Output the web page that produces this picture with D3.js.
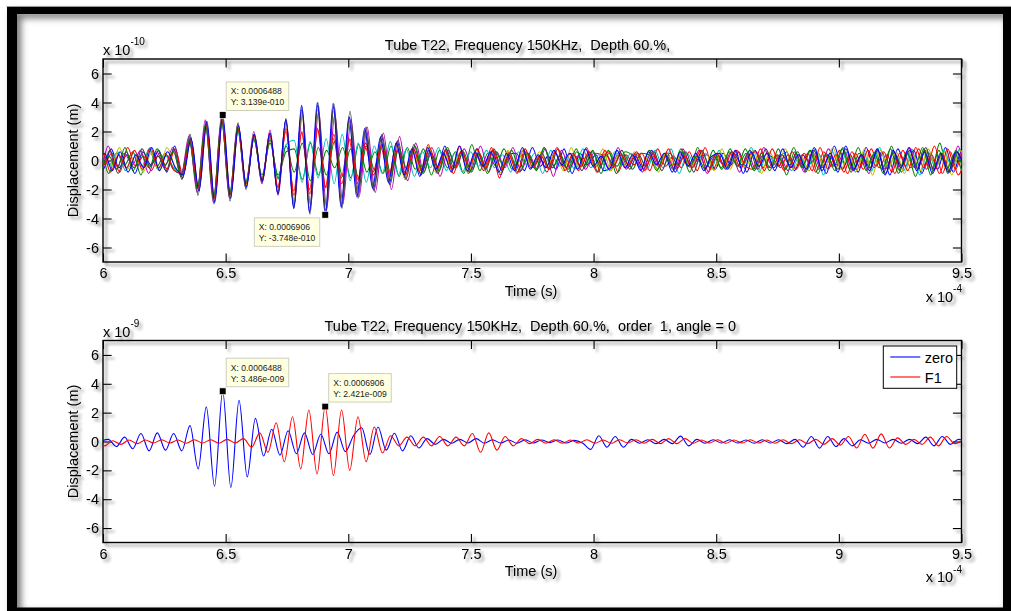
<!DOCTYPE html>
<html>
<head>
<meta charset="utf-8">
<script src="https://cdn.jsdelivr.net/npm/d3@7"></script>
<style>
  html, body { margin: 0; padding: 0; background: #fff; }
  svg { display: block; }
  text { font-family: "Liberation Sans", Arial, Helvetica, sans-serif; }
</style>
</head>
<body>
<svg id="fig" width="1011" height="611"></svg>
<script>
// ---------------- data ----------------
// time axis in units of 1e-4 s, displacement in 1e-10 m (top) / 1e-9 m (bottom)
const xTicks = [6, 6.5, 7, 7.5, 8, 8.5, 9, 9.5];
const yTicks = [-6, -4, -2, 0, 2, 4, 6];
const timeDomain = [6, 9.5];
const dispDomain = [-7, 7];

const titleTop = "Tube T22, Frequency 150KHz,  Depth 60.%,";
const titleBottom = "Tube T22, Frequency 150KHz,  Depth 60.%,  order  1, angle = 0";
const yLabel = "Displacement (m)";
const xLabel = "Time (s)";

// top panel: successive extrema of each trace, one every half cycle;
// each trace has its own first-extremum time and half-cycle spacing
const topStarts = [5.96812, 5.95712, 5.97142, 5.96152, 5.95492, 5.96988, 5.96372, 5.95822, 5.96592, 5.97354];
const topSteps  = [0.03240, 0.03290, 0.03225, 0.03270, 0.03300, 0.03232, 0.03260, 0.03285, 0.03250, 0.0321538];
const topColors = ["#0000ff", "#008000", "#ff0000", "#00bfbf", "#bf00bf", "#bfbf00", "#404040", "#008000", "#ff0000", "#0000ff"];

const topTrace0 = [0.3,-0.6,0.8,-0.5,0.4,-0.9,0.6,-0.3,0.7,-0.8,1.0,
  -1.2,1.6,-2.0,2.6,-2.8,2.9,-2.5,2.4,-1.8,1.7,-1.4,1.9,
  -2.2,2.8,-3.2,3.5,-3.5,3.8,-3.6,3.7,-3.2,3.0,-2.4,2.1,-2.0,1.7,-1.6,
  1.3,-1.2,0.9,-1.0,0.7,-0.8,1.0,-0.6,0.5,-0.9,0.8,
  -0.5,0.7,-1.0,0.4,0.5,-0.7,0.9,-0.4,0.3,-0.6,
  0.8,-0.9,0.5,-0.3,0.4,-0.7,-0.4,0.6,-0.5,0.3,
  -0.6,0.7,-0.3,0.5,-0.8,0.6,-0.4,0.2,0.4,-0.6,
  0.5,-0.3,0.6,-0.8,0.7,-0.5,0.3,-0.4,0.6,-0.7,
  0.4,-0.2,0.5,-0.9,1.0,-0.6,0.4,-0.8,0.9,-0.5,
  0.6,-1.0,0.8,-0.4,0.7,-0.9,0.5,-0.6,0.9,-0.8,0.6,-0.3];
const topTrace1 = [-0.4,0.7,-0.9,0.5,-0.3,0.6,-1.0,0.8,-0.4,0.5,-0.6,
  -0.9,1.3,-1.9,2.4,-2.6,2.7,-2.3,2.1,-1.5,1.4,-1.0,1.2,
  -1.0,0.6,0.8,-1.3,1.2,-1.0,0.7,-0.5,0.9,-1.2,1.1,-0.8,0.6,-0.9,1.0,
  -1.1,0.9,-0.6,0.8,-1.0,0.7,-0.5,0.6,-0.9,1.1,-0.7,
  0.5,-0.4,0.8,-0.6,0.3,0.5,-0.7,0.9,-0.5,0.4,
  -0.8,0.6,-0.3,0.7,-0.9,0.5,-0.4,0.6,0.3,-0.5,
  0.7,-0.6,0.4,-0.3,0.6,-0.8,0.9,-0.5,0.3,-0.6,
  0.8,-0.4,0.5,-0.7,0.3,-0.5,0.8,-1.0,0.6,-0.4,
  0.7,-0.6,0.4,-0.7,0.9,-0.8,0.5,-0.3,0.6,-0.9,
  1.0,-0.7,0.5,-1.1,0.8,-0.6,1.2,-0.9,0.7,-0.5,1.6,-0.8];
const topTrace2 = [0.6,-0.3,0.5,-0.8,0.9,-0.4,0.3,-0.7,0.5,-0.6,0.8,
  -1.0,1.5,-2.1,2.5,-2.7,2.8,-2.4,2.2,-1.7,1.8,-1.5,1.6,
  -1.8,2.0,-2.1,1.9,-2.0,2.2,-1.8,1.5,-1.2,1.4,-1.6,1.0,-0.8,0.9,-1.1,
  1.2,-0.8,0.6,-0.9,1.1,-0.7,0.4,-0.6,1.0,-0.8,0.5,
  -0.7,0.9,-1.2,0.6,-0.4,0.7,-0.5,0.3,-0.8,0.6,
  -0.4,0.5,-0.7,0.9,-0.5,0.3,0.6,-0.8,0.4,-0.3,
  0.5,-0.7,0.8,-0.4,0.3,-0.5,0.6,-0.7,0.9,-0.6,
  0.4,-0.5,0.7,-0.3,-0.6,0.8,-0.5,0.4,-0.7,0.6,
  -0.3,0.5,-0.8,0.6,-0.4,0.7,-0.9,0.5,-0.6,0.8,
  -0.5,0.4,-0.9,0.7,-0.5,0.8,-0.6,1.0,-0.9,0.6,-1.0,0.5];
const topTrace3 = [-0.5,0.4,-0.3,0.6,-0.7,0.5,-0.4,0.8,-0.6,0.3,-0.5,
  -0.8,1.2,-1.8,2.3,-2.5,2.6,-2.2,2.0,-1.4,1.6,-1.2,1.5,
  -1.3,1.1,1.4,-1.5,1.3,-1.2,1.5,-1.6,1.8,-1.4,1.2,-1.5,1.0,-0.9,1.3,
  -1.0,0.8,-1.1,0.6,-0.5,0.9,-0.7,0.5,-0.8,0.6,-0.4,
  0.7,-0.5,0.4,-0.8,0.6,-0.3,0.5,-0.9,0.7,-0.4,
  0.3,-0.6,0.8,-0.5,0.4,-0.7,0.6,-0.3,0.5,-0.4,
  -0.6,0.7,-0.5,0.8,-0.9,0.5,-0.3,0.4,-0.6,0.7,
  -0.5,0.3,-0.4,0.9,-0.8,0.6,-0.3,0.5,-0.7,0.4,
  -0.6,0.8,-1.0,0.7,-0.4,0.6,-0.8,0.5,-0.7,0.9,
  -0.6,0.4,-0.7,0.8,-1.0,0.6,-0.5,0.7,-0.4,0.8,-0.6,0.3];
const topTrace4 = [0.4,-0.8,1.0,-0.6,0.5,-0.3,0.7,-0.9,0.6,-0.4,0.9,
  -1.1,1.7,-2.2,2.8,-2.9,3.0,-2.6,2.5,-1.9,2.0,-1.6,2.1,
  -2.4,2.6,-3.0,3.2,-3.1,3.4,-3.3,3.2,-3.0,2.8,-2.5,2.3,-2.2,1.9,-2.0,
  1.65,-1.4,1.2,-0.8,0.9,-1.1,0.7,-0.5,0.8,-0.6,1.0,
  -0.8,0.6,-0.5,0.9,-0.7,0.4,-0.6,0.8,-1.1,0.7,
  -0.5,0.3,-0.6,0.5,0.4,-0.7,0.9,-0.6,0.5,-0.8,
  0.6,-0.4,0.3,-0.6,0.8,-0.5,0.7,-0.9,0.4,-0.3,
  0.6,-0.8,0.5,-0.6,0.9,-0.4,0.3,-0.7,0.5,-0.8,
  0.6,-0.5,0.8,-0.3,0.6,-0.7,0.4,-0.9,0.8,-0.6,
  0.5,-0.8,0.9,-0.5,0.7,-0.6,0.4,-0.8,1.0,-0.7,0.5,-0.9];
const topTrace5 = [-0.7,0.5,-0.4,0.9,-0.6,0.3,-0.8,0.5,-0.7,0.9,-0.4,
  -1.0,1.4,-2.0,2.6,-2.7,2.9,-2.5,2.3,-1.7,1.9,-1.4,1.8,
  -2.1,2.5,-2.9,3.3,-3.3,3.5,-3.4,3.4,-2.9,2.7,-2.2,1.9,-1.8,1.5,-1.4,
  1.1,-1.3,0.8,-0.7,1.0,-0.9,0.5,-0.7,0.6,-0.9,0.7,
  -0.6,0.4,-0.9,0.7,-0.5,0.8,-0.4,0.6,-0.3,0.5,
  -0.7,0.9,-0.6,0.4,-0.5,0.8,-0.7,0.5,-0.4,0.6,
  -0.3,0.5,-0.8,0.6,-0.4,0.7,-0.5,0.3,0.5,-0.7,
  0.8,-0.6,0.4,-0.5,0.7,-0.9,0.6,-0.4,0.8,-0.6,
  0.3,-0.7,0.6,-0.5,0.9,-0.6,0.4,-0.7,0.8,-1.0,
  0.7,-0.5,0.6,-0.9,0.5,-0.7,0.8,-0.4,0.6,-1.0,0.7,-0.4];
const topTrace6 = [0.5,-0.4,0.7,-0.9,0.6,-0.5,0.8,-0.4,0.3,-0.7,0.8,
  -1.3,1.8,-2.4,2.7,-3.0,3.0,-2.8,2.6,-2.0,1.8,-1.5,1.9,
  -2.3,2.9,-3.3,3.7,-3.7,4.0,-3.7,3.9,-3.3,3.4,-2.6,2.3,-2.1,1.8,-1.7,
  1.4,-1.3,1.1,-0.8,0.6,-0.9,0.8,-0.5,0.7,-0.8,0.5,
  -0.6,0.8,-0.7,0.5,-0.8,0.6,-0.3,0.5,-0.6,0.8,
  -0.5,0.4,-0.7,0.6,-0.8,0.4,-0.3,0.7,-0.6,0.5,
  -0.4,0.6,-0.7,0.5,-0.3,0.6,-0.8,0.7,-0.5,0.4,
  -0.6,0.5,-0.3,0.7,-0.6,0.8,-0.5,0.4,-0.3,0.6,
  -0.8,0.7,-0.5,0.3,-0.6,0.8,-0.7,0.4,-0.5,0.7,
  -0.9,0.6,-0.4,0.7,-0.6,0.9,-0.7,0.5,-0.8,0.6,-0.7,0.4];
const topTrace7 = [0.8,-0.5,0.3,-0.6,0.9,-0.7,0.4,-0.5,0.8,-0.3,0.6,
  -1.1,1.4,-1.9,2.5,-2.6,2.8,-2.4,2.3,-1.6,1.5,-1.3,1.4,
  -1.2,1.0,-0.8,1.2,-1.4,0.9,-1.0,1.3,-1.1,0.8,-1.2,1.0,-0.7,1.1,-0.9,
  0.8,-0.6,1.0,-0.9,0.5,-0.7,0.9,-0.4,0.6,-0.8,0.5,
  -0.9,0.6,-0.4,0.7,-0.8,0.5,-0.6,0.9,-0.5,0.3,
  -0.6,0.8,-0.5,0.6,-0.4,0.7,-0.9,0.4,-0.6,0.5,
  0.4,-0.7,0.5,-0.6,0.8,-0.4,0.3,-0.6,0.7,-0.5,
  0.6,-0.4,0.8,-0.6,0.5,-0.7,0.4,-0.6,0.9,-0.5,
  0.7,-0.9,0.5,-0.4,0.8,-0.6,0.9,-0.7,0.4,-0.6,
  0.8,-0.9,0.6,-0.5,0.9,-1.0,0.7,-0.6,0.5,-0.8,1.1,-0.6];
const topTrace8 = [-0.3,0.6,-0.8,0.4,-0.5,0.7,-0.6,0.9,-0.5,0.4,-0.7,
  -0.9,1.3,-1.8,2.4,-2.6,2.7,-2.3,2.1,-1.6,1.7,-1.3,1.7,
  -1.9,2.2,-2.4,2.0,-2.3,2.1,-1.9,1.8,-1.6,1.5,-1.3,1.2,-1.0,1.1,-0.9,
  0.7,-1.0,0.8,-0.6,0.9,-0.5,0.7,-0.9,0.6,-0.4,0.8,
  -0.5,0.7,-0.6,0.4,-0.9,0.8,-0.5,0.3,-0.6,0.9,
  -0.7,0.5,-0.4,0.6,-0.8,0.7,-0.5,0.4,-0.3,0.6,
  -0.7,0.5,-0.4,0.8,-0.6,0.3,-0.5,0.7,-0.8,0.5,
  -0.4,0.6,-0.5,0.3,0.6,-0.7,0.8,-0.5,0.4,-0.6,
  0.5,-0.7,0.9,-0.6,0.4,-0.8,0.6,-0.5,0.7,-0.4,
  0.6,-0.8,0.5,-0.7,0.9,-0.5,0.4,-0.9,0.8,-0.6,0.7,-0.5];
const topTrace9 = [-0.4,0.5,-0.7,0.6,-0.8,0.4,-0.5,0.9,-0.7,0.6,-0.5,
  -1.0,1.5,-2.1,2.7,-2.9,3.139,-2.6,2.4,-1.8,1.8,-1.4,1.9,
  -2.3,2.8,-3.3,3.8,-3.6,4.0,-3.748,3.95,-3.2,3.0,-2.5,2.2,-1.9,1.6,-1.5,
  1.2,-1.0,0.8,-1.1,0.9,-0.6,0.5,-0.8,1.0,-0.7,0.6,
  -0.4,0.6,-0.8,0.5,-0.7,0.9,-0.6,0.4,-0.5,0.7,
  -0.3,0.5,-0.6,0.8,-0.4,0.3,-0.6,0.7,-0.5,0.4,
  -0.7,0.6,-0.3,0.5,-0.8,0.6,-0.4,0.5,-0.7,0.3,
  0.5,-0.6,0.7,-0.9,0.6,-0.4,0.5,-0.7,0.8,-0.5,
  0.4,-0.6,0.9,-0.7,0.5,-0.8,1.0,-0.6,0.4,-0.7,
  0.8,-1.0,0.7,-0.5,0.9,-0.7,0.6,-0.9,0.5,-0.8,0.6,-0.4];

// bottom panel: "zero" and "F1" components, extrema every half cycle (150 kHz)
const halfCycle = 0.0333333;
const zeroStart = 5.988;
const f1Start = 5.972667;
const zeroValues = [0.0,0.15,-0.35,0.3,-0.5,0.55,-0.65,0.6,-0.6,0.55,
  -0.65,1.1,-1.9,2.4,-3.1,3.486,-3.2,2.85,-2.45,1.6,
  -1.0,0.85,-0.95,0.75,-0.85,0.6,-0.9,0.5,-0.85,0.65,
  -0.7,0.4,0.95,-0.9,1.0,-0.6,0.57,-0.65,0.4,-0.45,
  0.2,-0.2,0.15,-0.12,0.15,-0.1,0.2,-0.12,0.12,-0.1,
  0.1,-0.12,0.12,-0.1,0.1,-0.08,0.1,-0.1,0.08,-0.1,
  -0.55,0.4,-0.4,0.35,-0.4,0.15,-0.12,0.12,-0.15,0.15,
  -0.15,0.37,-0.3,0.15,-0.12,0.12,-0.1,0.12,-0.1,0.1,
  -0.12,0.12,-0.1,0.12,-0.15,0.15,-0.4,0.35,-0.46,0.35,
  -0.35,0.2,-0.3,0.12,-0.12,0.15,-0.1,0.15,-0.12,0.15,
  -0.15,0.3,-0.3,0.35,-0.2,0.15,-0.1];
const f1Values = [0.5,-0.3,0.05,-0.2,0.1,-0.15,0.1,-0.1,0.12,-0.1,
  0.1,-0.12,0.12,-0.1,0.12,-0.12,0.15,-0.1,0.2,-0.4,
  0.6,-0.75,1.3,-1.4,1.72,-1.9,2.18,-2.25,2.421,-2.35,
  2.18,-2.0,1.72,-1.4,1.0,-0.8,0.4,-0.3,0.3,-0.3,
  0.3,-0.3,0.35,-0.3,0.3,-0.3,0.55,-0.75,0.6,-0.6,
  0.35,-0.3,0.2,-0.15,0.15,-0.12,0.12,-0.12,0.1,-0.1,
  0.12,-0.12,0.1,-0.12,0.12,-0.1,0.12,-0.12,0.15,-0.15,
  0.2,-0.15,0.2,-0.12,0.1,-0.1,0.12,-0.12,0.1,-0.1,
  0.12,-0.1,0.1,-0.12,0.12,-0.15,0.12,-0.15,0.15,-0.2,
  0.2,-0.25,0.35,-0.45,0.5,-0.46,0.53,-0.45,0.25,-0.2,
  0.15,-0.2,0.3,-0.3,0.35,-0.15,0.1];
const legendNames = ["zero", "F1"];
const bottomColors = ["#0000ff", "#ff0000"];

// data cursors
const topTipTimes = [6.488, 6.906];
const topTipValues = [3.139, -3.748];
const bottomTipTimes = [6.488, 6.906];
const bottomTipValues = [3.486, 2.421];

// ---------------- drawing ----------------
const W = 1011, H = 611;
const FONT = 14.5;
const TICK = 8.6;
const svg = d3.select("#fig");
const defs = svg.append("defs");

const soft = defs.append("filter").attr("id", "soft")
  .attr("filterUnits", "userSpaceOnUse").attr("x", 0).attr("y", 0).attr("width", W).attr("height", H);
soft.append("feDropShadow").attr("dx", 3).attr("dy", 3).attr("stdDeviation", 1.8)
  .attr("flood-color", "#000").attr("flood-opacity", 0.45);

const inner = defs.append("filter").attr("id", "inner")
  .attr("filterUnits", "userSpaceOnUse").attr("x", 0).attr("y", 0).attr("width", W).attr("height", H);
inner.append("feDropShadow").attr("dx", 4).attr("dy", 4).attr("stdDeviation", 3.5)
  .attr("flood-color", "#000").attr("flood-opacity", 0.55);

svg.append("rect").attr("width", W).attr("height", H).attr("fill", "#fff");

// picture frame
svg.append("path")
  .attr("d", "M7,7H1015V615H7Z M17,14V607.5H1003V14Z")
  .attr("fill-rule", "evenodd").attr("fill", "#000")
  .attr("filter", "url(#inner)");
svg.append("path").attr("d", "M6.5,6.5H1011").attr("stroke", "#9a9a9a").attr("stroke-width", 1);

function fmtExp(v) {
  const m = v.toExponential(3).match(/^(-?[\d.]+)e([+-])(\d+)$/);
  return m[1] + "e" + m[2] + m[3].padStart(3, "0");
}

function drawPanel(p) {
  const x = d3.scaleLinear().domain(timeDomain).range([p.left, p.right]);
  const y = d3.scaleLinear().domain(dispDomain).range([p.bottom, p.top]);
  const g = svg.append("g");

  defs.append("clipPath").attr("id", p.id + "-clip")
    .append("rect").attr("x", p.left).attr("y", p.top)
    .attr("width", p.right - p.left).attr("height", p.bottom - p.top);

  // axes box, ticks, labels (with soft shadow)
  const ax = g.append("g").attr("filter", "url(#soft)");
  ax.append("rect").attr("x", p.left).attr("y", p.top)
    .attr("width", p.right - p.left).attr("height", p.bottom - p.top)
    .attr("fill", "none").attr("stroke", "#000").attr("stroke-width", 1.4);

  const fmt = d => String(d);
  const axes = [
    [d3.axisBottom(x).tickValues(xTicks).tickFormat(fmt).tickPadding(6), `translate(0,${p.bottom})`],
    [d3.axisTop(x).tickValues(xTicks).tickFormat(""), `translate(0,${p.top})`],
    [d3.axisLeft(y).tickValues(yTicks).tickFormat(fmt).tickPadding(4), `translate(${p.left},0)`],
    [d3.axisRight(y).tickValues(yTicks).tickFormat(""), `translate(${p.right},0)`]
  ];
  axes.forEach(([a, tr]) => {
    const ag = ax.append("g").attr("transform", tr)
      .call(a.tickSizeInner(-TICK).tickSizeOuter(0));
    ag.select(".domain").remove();
    ag.selectAll(".tick line").attr("stroke", "#000").attr("stroke-width", 1.1);
    ag.selectAll("text").attr("fill", "#000").style("font-size", FONT + "px")
      .style("font-family", '"Liberation Sans", Arial, sans-serif');
  });

  // titles and labels
  ax.append("text").attr("x", p.titleX).attr("y", p.top - 9.5)
    .attr("text-anchor", "middle").attr("xml:space", "preserve")
    .style("white-space", "pre").style("font-size", FONT + "px").text(p.title);

  const mult = ax.append("text").attr("x", p.left).attr("y", p.top - 4)
    .style("font-size", FONT + "px");
  mult.append("tspan").text("x 10");
  mult.append("tspan").attr("dy", -10).style("font-size", "10px").text(p.exp);

  ax.append("text").attr("x", 531).attr("y", p.bottom + 33.5)
    .attr("text-anchor", "middle").style("font-size", FONT + "px").text(xLabel);

  const xm = ax.append("text").attr("x", 962).attr("y", p.bottom + 39.5)
    .attr("text-anchor", "end").style("font-size", FONT + "px");
  xm.append("tspan").text("x 10");
  xm.append("tspan").attr("dy", -9.5).style("font-size", "10px").text("-4");

  ax.append("text")
    .attr("transform", `translate(77.5,${(p.top + p.bottom) / 2}) rotate(-90)`)
    .attr("text-anchor", "middle").style("font-size", FONT + "px").text(yLabel);

  // traces
  const line = d3.line().x(d => x(d.t)).y(d => y(d.v)).curve(d3.curveMonotoneX);
  const lg = g.append("g").attr("clip-path", `url(#${p.id}-clip)`);
  p.series.forEach(s => {
    const pts = s.values.map((v, i) => ({ t: s.start + i * s.step, v }));
    lg.append("path").datum(pts).attr("d", line)
      .attr("fill", "none").attr("stroke", s.color).attr("stroke-width", 1.1)
      .attr("stroke-linejoin", "round");
  });

  // data cursors
  p.tips.forEach(tp => {
    const mx = x(tp.t), my = y(tp.v);
    const tg = g.append("g");
    const box = tg.append("rect").attr("fill", "#ffffe1").attr("stroke", "#cfcfbf").attr("stroke-width", 1);
    const t1 = tg.append("text").style("font-size", "8.6px").attr("fill", "#222")
      .text("X: " + (tp.t * 1e-4).toFixed(7));
    const t2 = tg.append("text").style("font-size", "8.6px").attr("fill", "#222")
      .text("Y: " + fmtExp(tp.v * p.scale));
    const wText = Math.max(t1.node().getComputedTextLength(), t2.node().getComputedTextLength());
    const bw = wText + 9, bh = 28.5;
    let bx, by;
    if (tp.place === "ne") { bx = mx + 3.5; by = my - 4.5 - bh; }
    else { bx = mx - 5.5 - bw; by = my + 3; }
    box.attr("x", bx).attr("y", by).attr("width", bw).attr("height", bh);
    t1.attr("x", bx + 4.5).attr("y", by + 12.5);
    t2.attr("x", bx + 4.5).attr("y", by + 23.5);
    tg.append("rect").attr("x", mx - 3.3).attr("y", my - 3.3).attr("width", 6.6).attr("height", 6.6)
      .attr("fill", "#000").attr("stroke", "#fffff0").attr("stroke-width", 0.6);
  });

  if (p.legend) {
    const L = p.legend;
    const lgd = g.append("g");
    lgd.append("rect").attr("x", L.x).attr("y", L.y).attr("width", L.w).attr("height", L.h)
      .attr("fill", "#fff").attr("stroke", "#000").attr("stroke-width", 1);
    L.names.forEach((n, i) => {
      const cy = L.y + 11 + i * 20;
      lgd.append("line").attr("x1", L.x + 7).attr("x2", L.x + 37).attr("y1", cy).attr("y2", cy)
        .attr("stroke", L.colors[i]).attr("stroke-width", 1.1);
      lgd.append("text").attr("x", L.x + 41.5).attr("y", cy + 5.5)
        .style("font-size", FONT + "px").text(n);
    });
  }
}

const topTraces = [topTrace0, topTrace1, topTrace2, topTrace3, topTrace4,
                   topTrace5, topTrace6, topTrace7, topTrace8, topTrace9];

drawPanel({
  id: "top", left: 103, right: 961.5, top: 59, bottom: 262,
  title: titleTop, titleX: 527.5, exp: "-10", scale: 1e-10,
  series: topTraces.map((vals, k) => ({ values: vals, start: topStarts[k], step: topSteps[k], color: topColors[k] })),
  tips: [
    { t: topTipTimes[0], v: topTipValues[0], place: "ne" },
    { t: topTipTimes[1], v: topTipValues[1], place: "sw" }
  ]
});

drawPanel({
  id: "bottom", left: 103, right: 961.5, top: 340.5, bottom: 542.5,
  title: titleBottom, titleX: 530.3, exp: "-9", scale: 1e-9,
  series: [
    { values: zeroValues, start: zeroStart, step: halfCycle, color: bottomColors[0] },
    { values: f1Values, start: f1Start, step: halfCycle, color: bottomColors[1] }
  ],
  tips: [
    { t: bottomTipTimes[0], v: bottomTipValues[0], place: "ne" },
    { t: bottomTipTimes[1], v: bottomTipValues[1], place: "ne" }
  ],
  legend: { x: 883.3, y: 346, w: 73.4, h: 42.3, names: legendNames, colors: bottomColors }
});
</script>
</body>
</html>
